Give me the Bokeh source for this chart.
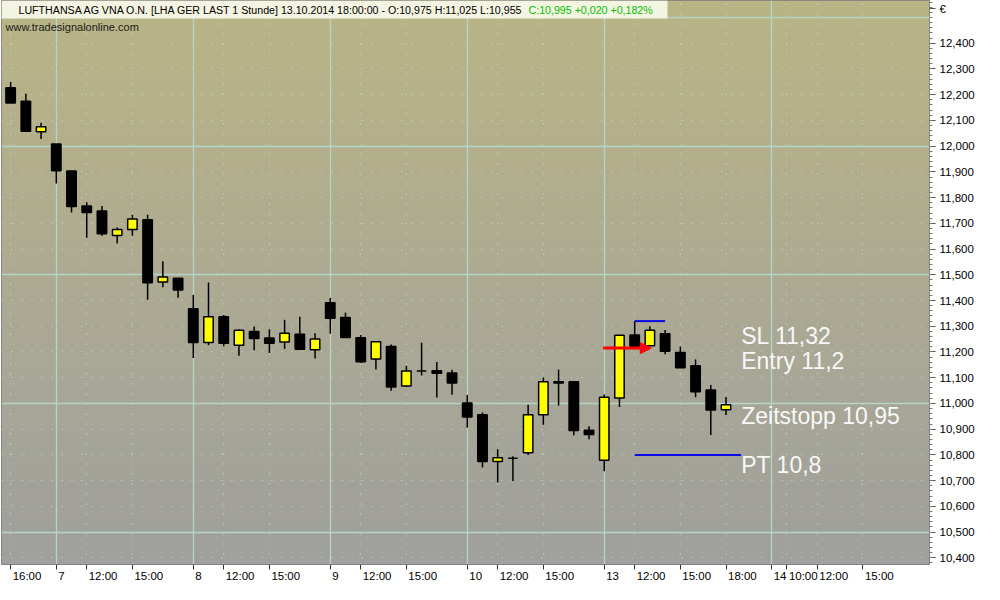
import numpy as np
from bokeh.plotting import figure
from bokeh.models import (Range1d, FixedTicker, Grid, Label, BoxAnnotation, Arrow,
                          NormalHead, ColumnDataSource, LinearAxis)
from bokeh.embed import file_html
from bokeh.resources import INLINE
from bokeh.core.properties import value

# ---------------- data ----------------
opens = [12.227, 12.174, 12.056, 12.008, 11.903, 11.767, 11.748, 11.653, 11.676, 11.714,
         11.472, 11.487, 11.368, 11.237, 11.337, 11.226, 11.280, 11.254, 11.239, 11.269,
         11.209, 11.391, 11.334, 11.255, 11.173, 11.221, 11.068, 11.126, 11.127, 11.118,
         11.002, 10.956, 10.774, 10.787, 10.808, 10.956, 11.084, 11.084, 10.896, 10.779,
         11.021, 11.266, 11.224, 11.271, 11.198, 11.146, 11.052, 10.975]
highs = [12.249, 12.204, 12.091, 12.008, 11.903, 11.782, 11.767, 11.684, 11.733, 11.733,
         11.553, 11.487, 11.421, 11.470, 11.344, 11.288, 11.299, 11.288, 11.325, 11.337,
         11.273, 11.410, 11.353, 11.266, 11.240, 11.229, 11.146, 11.236, 11.161, 11.131,
         11.033, 10.965, 10.822, 10.795, 10.995, 11.101, 11.131, 11.084, 10.911, 11.035,
         11.265, 11.320, 11.300, 11.285, 11.221, 11.171, 11.072, 11.025]
lows = [12.168, 12.058, 12.028, 11.855, 11.742, 11.644, 11.652, 11.622, 11.652, 11.403,
        11.452, 11.411, 11.177, 11.226, 11.222, 11.185, 11.207, 11.196, 11.212, 11.211,
        11.175, 11.271, 11.256, 11.157, 11.132, 11.049, 11.064, 11.109, 11.023, 11.034,
        10.906, 10.751, 10.693, 10.699, 10.800, 10.917, 10.992, 10.876, 10.861, 10.736,
        10.986, 11.222, 11.224, 11.191, 11.139, 11.024, 10.877, 10.955]
closes = [12.168, 12.058, 12.075, 11.904, 11.765, 11.742, 11.659, 11.676, 11.717, 11.469,
          11.491, 11.441, 11.237, 11.337, 11.234, 11.284, 11.252, 11.234, 11.273, 11.211,
          11.250, 11.331, 11.256, 11.162, 11.240, 11.064, 11.126, 11.126, 11.117, 11.079,
          10.947, 10.774, 10.789, 10.787, 10.956, 11.084, 11.079, 10.895, 10.879, 11.024,
          11.265, 11.222, 11.284, 11.203, 11.139, 11.045, 10.974, 10.995]

x_tick_pos = [0, 3, 5, 8, 12, 14, 17, 21, 23, 26, 30, 32, 35, 39, 41, 44, 47, 50, 51, 53, 56]
x_tick_labels = ["16:00", "7", "12:00", "15:00", "8", "12:00", "15:00", "9", "12:00", "15:00",
                 "10", "12:00", "15:00", "13", "12:00", "15:00", "18:00", "14", "10:00",
                 "12:00", "15:00"]
day_start_pos = [3, 12, 21, 30, 39, 50]

y_ticks = [10.4, 10.5, 10.6, 10.7, 10.8, 10.9, 11.0, 11.1, 11.2, 11.3, 11.4, 11.5,
           11.6, 11.7, 11.8, 11.9, 12.0, 12.1, 12.2, 12.3, 12.4]
y_tick_labels = ["10,400", "10,500", "10,600", "10,700", "10,800", "10,900", "11,000",
                 "11,100", "11,200", "11,300", "11,400", "11,500", "11,600", "11,700",
                 "11,800", "11,900", "12,000", "12,100", "12,200", "12,300", "12,400"]
y_solid_grid = [10.5, 11.0, 11.5, 12.0, 12.5]
currency = "€"

# trade annotations
level_names = ["SL", "PT"]
level_values = [11.32, 10.8]
level_from = [41, 41]
level_to = [43, 48]
arrow_from, arrow_to, arrow_price = 38.93, 42.09, 11.215
note_texts = ["SL 11,32", "Entry 11,2", "Zeitstopp 10,95", "PT 10,8"]
note_x = [48.0, 48.0, 48.0, 48.0]
note_y = [11.2625, 11.1657, 10.9525, 10.760]

header_black = "LUFTHANSA AG VNA O.N. [LHA GER LAST 1 Stunde] 13.10.2014 18:00:00 - O:10,975 H:11,025 L:10,955"
header_green = "C:10,995 +0,020 +0,182%"
source_text = "www.tradesignalonline.com"

# ---------------- layout ----------------
W, H = 984, 584
MB_R, MB_B, MB_L, MB_T = 55, 20, 1, 0
frame_w = W - MB_R - MB_L
frame_h = H - MB_B - MB_T
x0, x1 = -0.6, 60.37
y0, y1 = 10.374, 12.566
px_x = (x1 - x0) / frame_w
px_y = (y1 - y0) / frame_h

FONT = "Liberation Sans"
AX_FS = 11.5

p = figure(width=W, height=H, output_backend="svg", toolbar_location=None,
           x_range=Range1d(x0, x1), y_range=Range1d(y0, y1),
           y_axis_location="right", min_border_right=MB_R, min_border_bottom=MB_B,
           min_border_left=MB_L, min_border_top=MB_T)
p.border_fill_color = "white"
p.outline_line_color = "#7a7a7a"
p.outline_line_width = 1

# gradient background
n = 200
top_c = np.array([186, 181, 134], dtype=float)
bot_c = np.array([160, 160, 158], dtype=float)
t = np.linspace(0, 1, n)[:, None]
cols = bot_c * (1 - t) + top_c * t
img = np.zeros((n, 1), dtype=np.uint32)
view = img.view(dtype=np.uint8).reshape((n, 1, 4))
view[:, 0, 0] = cols[:, 0].astype(np.uint8)
view[:, 0, 1] = cols[:, 1].astype(np.uint8)
view[:, 0, 2] = cols[:, 2].astype(np.uint8)
view[:, 0, 3] = 255
bg = p.image_rgba(image=[img], x=x0, y=y0, dw=x1 - x0, dh=y1 - y0)
bg.level = "image"

# grids
grid_solid = "#b3d6c6"
grid_dot = "#c4ddd2"
p.xgrid.ticker = FixedTicker(ticks=day_start_pos)
p.xgrid.grid_line_color = grid_solid
p.xgrid.grid_line_width = 1.3
p.ygrid.ticker = FixedTicker(ticks=y_solid_grid)
p.ygrid.grid_line_color = grid_solid
p.ygrid.grid_line_width = 1.3
x_dot = [v for v in x_tick_pos if v not in day_start_pos]
y_dot = [v for v in y_ticks if round(v, 3) not in y_solid_grid]
p.add_layout(Grid(dimension=0, ticker=FixedTicker(ticks=x_dot), grid_line_color=grid_dot,
                  grid_line_dash="1 9", grid_line_width=1.2))
p.add_layout(Grid(dimension=1, ticker=FixedTicker(ticks=y_dot), grid_line_color=grid_dot,
                  grid_line_dash="1 9", grid_line_width=1.2))

# right price axis (+ currency sign near the top)
cur_pos = round(y1 - 8 * px_y, 4)
minor = [round(10.36 + 0.02 * i, 2) for i in range(112)]
p.yaxis.ticker = FixedTicker(ticks=y_ticks + [cur_pos], minor_ticks=minor)
ov = dict(zip(y_ticks, y_tick_labels))
ov[cur_pos] = currency
p.yaxis.major_label_overrides = ov
p.yaxis.axis_line_color = None
p.yaxis.major_tick_in = 0
p.yaxis.major_tick_out = 6
p.yaxis.minor_tick_in = 0
p.yaxis.minor_tick_out = 3
p.yaxis.major_tick_line_color = "#555555"
p.yaxis.minor_tick_line_color = "#777777"
p.yaxis.major_label_standoff = 4
p.yaxis.major_label_text_font = FONT
p.yaxis.major_label_text_font_size = f"{AX_FS}px"
p.yaxis.major_label_text_color = "black"

# x axis: tick marks at the real positions ...
p.xaxis.ticker = FixedTicker(ticks=x_tick_pos)
p.xaxis.major_label_text_font_size = "0px"
p.xaxis.major_label_text_color = None
p.xaxis.major_label_standoff = 0
p.xaxis.axis_line_color = None
p.xaxis.major_tick_in = 0
p.xaxis.major_tick_out = 5
p.xaxis.minor_tick_line_color = None
p.xaxis.major_tick_line_color = "#333333"

# ... and labels that start just right of each tick (left aligned as in the reference)
def label_width(s):
    return sum(0.556 if ch.isdigit() else 0.278 for ch in s) * AX_FS

lab_pos = [round(xp + (2 + label_width(s) / 2) * px_x, 4) for xp, s in zip(x_tick_pos, x_tick_labels)]
lab_axis = LinearAxis(ticker=FixedTicker(ticks=lab_pos),
                      major_label_overrides=dict(zip(lab_pos, x_tick_labels)),
                      axis_line_color=None, major_tick_line_color=None,
                      minor_tick_line_color=None, major_tick_out=0, major_tick_in=0,
                      major_label_standoff=0, major_label_text_font=FONT,
                      major_label_text_font_size=f"{AX_FS}px", major_label_text_color="black")
p.add_layout(lab_axis, "below")

# candles
idx = list(range(len(opens)))
body_top = [max(o, c) for o, c in zip(opens, closes)]
body_bot = [min(o, c) for o, c in zip(opens, closes)]
colors = ["#ffff00" if c > o else "black" for o, c in zip(opens, closes)]
src = ColumnDataSource(dict(x=idx, o=opens, h=highs, l=lows, c=closes,
                            top=body_top, bot=body_bot, col=colors))
p.segment(x0="x", y0="l", x1="x", y1="h", source=src, line_color="black", line_width=1.5)
p.vbar(x="x", width=0.62, top="top", bottom="bot", source=src, fill_color="col",
       line_color="black", line_width=1.5)

# trade levels
p.segment(x0=level_from, y0=level_values, x1=level_to, y1=level_values,
          line_color="#0a0ae6", line_width=2)
p.add_layout(Arrow(end=NormalHead(size=11, fill_color="#ff0000", line_color="#ff0000"),
                   x_start=arrow_from, y_start=arrow_price, x_end=arrow_to, y_end=arrow_price,
                   line_color="#ff0000", line_width=3))
p.text(x=note_x, y=note_y, text=note_texts, text_font=value(FONT), text_font_size="23px",
       text_color="#f8f8f8", text_baseline="alphabetic", text_align="left")

# header
p.add_layout(BoxAnnotation(left=x0, right=x0 + 666 * px_x, top=y1, bottom=y1 - 18 * px_y,
                           fill_color="#f4f4e2", fill_alpha=1, line_color=None))
p.rect(x=[x0 + 10 * px_x], y=[y1 - 9 * px_y], width=6 * px_x, height=8 * px_y,
       fill_color="#ffff00", line_color="black", line_width=1.2)
p.segment(x0=[x0 + 10 * px_x, x0 + 10 * px_x], y0=[y1 - 2 * px_y, y1 - 13 * px_y],
          x1=[x0 + 10 * px_x, x0 + 10 * px_x], y1=[y1 - 5 * px_y, y1 - 16 * px_y],
          line_color="black", line_width=1.2)
p.add_layout(Label(x=x0 + 17 * px_x, y=y1 - 9.5 * px_y, text=header_black, text_font=FONT,
                   text_font_size="10.65px", text_color="black", text_baseline="middle"))
p.add_layout(Label(x=x0 + 527 * px_x, y=y1 - 9.5 * px_y, text=header_green, text_font=FONT,
                   text_font_size="10.65px", text_color="#00c000", text_baseline="middle"))
p.add_layout(Label(x=x0 + 4 * px_x, y=y1 - 26 * px_y, text=source_text, text_font=FONT,
                   text_font_size="11px", text_color="#1a1a1a", text_baseline="middle"))

open("out.html", "w").write(file_html(p, INLINE))
